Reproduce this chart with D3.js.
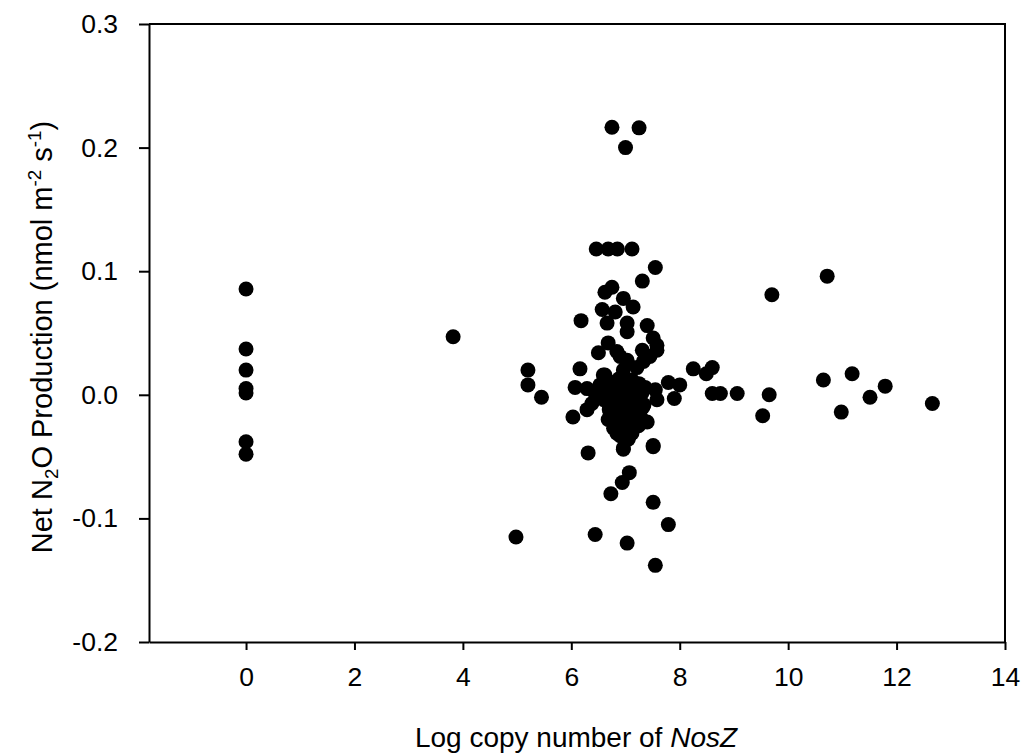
<!DOCTYPE html>
<html>
<head>
<meta charset="utf-8">
<script src="https://cdn.jsdelivr.net/npm/d3@7"></script>
<style>
  html, body { margin: 0; padding: 0; background: #fff; }
  svg text { font-family: Arial, "Liberation Sans", sans-serif; fill: #000; }
</style>
</head>
<body>
<svg id="chart" width="1026" height="755"></svg>
<script>
// Log copy number of NosZ (x) and Net N2O production (y)
const nosZ = [
  0, 0, 0, 0, 0, 0, 0,
  3.82, 4.98, 5.2, 5.2, 5.45,
  6.75, 7.25, 7.0,
  6.46, 6.68, 6.85, 7.12,
  7.55, 7.31, 6.62, 6.75, 6.96,
  7.14, 6.57, 6.81, 6.18, 6.66, 7.03, 7.03, 7.40, 7.51, 7.58, 7.58,
  6.68, 6.50, 6.84, 7.31, 7.45, 7.03, 6.90, 7.33,
  6.16, 6.59, 6.96, 7.21, 6.62,
  6.07, 6.29, 6.44, 6.03, 6.29, 6.38, 6.53,
  7.40, 7.55, 7.58, 6.84, 7.12, 6.72, 6.96, 7.05, 6.96, 7.51,
  6.31, 6.90, 7.05, 6.96, 7.51, 7.07, 6.94, 6.73, 7.51, 7.79, 6.44, 7.03, 7.55,
  // dense core
  6.62, 6.75, 6.88, 7.0, 7.12, 7.25, 7.36,
  6.66, 6.80, 6.92, 7.05, 7.18, 7.30,
  6.60, 6.74, 6.86, 6.98, 7.10, 7.22, 7.34,
  6.70, 6.82, 6.95, 7.08, 7.20, 7.32,
  6.68, 6.80, 6.93, 7.06, 7.18, 7.28,
  6.78, 6.90, 7.02, 7.14, 7.24,
  // right of core
  7.79, 8.0, 7.90, 8.25, 8.49, 8.60, 8.60, 8.75, 9.06,
  9.70, 9.65, 9.53, 10.72, 10.65, 11.18, 10.98, 11.51, 11.79, 12.66
];
const n2o = [
  0.0856, 0.037, 0.020, 0.005, 0.0015, -0.038, -0.048,
  0.047, -0.115, 0.020, 0.008, -0.002,
  0.2165, 0.216, 0.200,
  0.118, 0.118, 0.118, 0.118,
  0.103, 0.092, 0.083, 0.087, 0.078,
  0.071, 0.069, 0.067, 0.060, 0.058, 0.058, 0.051, 0.056, 0.046, 0.036, 0.040,
  0.042, 0.034, 0.035, 0.036, 0.031, 0.028, 0.031, 0.027,
  0.021, 0.016, 0.020, 0.022, 0.016,
  0.006, 0.005, 0.001, -0.018, -0.012, -0.007, 0.008,
  -0.022, 0.004, -0.004, -0.031, -0.031, -0.018, -0.034, -0.036, -0.043, -0.042,
  -0.047, -0.033, -0.035, -0.044, -0.041, -0.063, -0.071, -0.080, -0.087, -0.105, -0.113, -0.120, -0.138,
  0.012, 0.010, 0.013, 0.011, 0.012, 0.009, 0.006,
  0.004, 0.003, 0.005, 0.002, 0.004, 0.001,
  -0.004, -0.005, -0.003, -0.006, -0.004, -0.005, -0.008,
  -0.012, -0.013, -0.011, -0.014, -0.012, -0.010,
  -0.020, -0.021, -0.019, -0.022, -0.020, -0.018,
  -0.027, -0.028, -0.026, -0.027, -0.025,
  0.010, 0.008, -0.003, 0.021, 0.017, 0.022, 0.001, 0.001, 0.001,
  0.081, 0.000, -0.017, 0.096, 0.012, 0.017, -0.014, -0.002, 0.007, -0.007
];
const xTicks = [0, 2, 4, 6, 8, 10, 12, 14];
const yTicks = [-0.2, -0.1, 0.0, 0.1, 0.2, 0.3];
const xDomain = [-1.79, 14];
const yDomain = [-0.2, 0.3];

const svg = d3.select("#chart");
const mLeft = 149, mRight = 1005, mTop = 24, mBottom = 642;
const x = d3.scaleLinear().domain(xDomain).range([mLeft, mRight]);
const y = d3.scaleLinear().domain(yDomain).range([mBottom, mTop]);

const fsTick = 26.5;
const fsTitle = 28;
const fsYTitle = 29;

// frame (top and right)
svg.append("path")
  .attr("d", `M${mLeft},${mTop}H${mRight}V${mBottom}`)
  .attr("fill", "none").attr("stroke", "#000").attr("stroke-width", 2);

// y axis
const gy = svg.append("g").attr("transform", `translate(${mLeft},0)`)
  .call(d3.axisLeft(y).tickValues(yTicks).tickFormat(d3.format(".1f")).tickSize(10).tickSizeOuter(0).tickPadding(21));
gy.selectAll("text").attr("font-size", fsTick).attr("font-family", "Arial, 'Liberation Sans', sans-serif")
  .text(d => d3.format(".1f")(d).replace("−", "-"));

// x axis
const gx = svg.append("g").attr("transform", `translate(0,${mBottom})`)
  .call(d3.axisBottom(x).tickValues(xTicks).tickFormat(d3.format("d")).tickSize(8).tickSizeOuter(0).tickPadding(17));
gx.selectAll("text").attr("font-size", fsTick).attr("font-family", "Arial, 'Liberation Sans', sans-serif");

svg.selectAll(".domain, .tick line").attr("stroke", "#000").attr("stroke-width", 2);

// points
svg.append("g").selectAll("circle")
  .data(nosZ.map((d, i) => [d, n2o[i]]))
  .join("circle")
  .attr("cx", d => x(d[0]))
  .attr("cy", d => y(d[1]))
  .attr("r", 7.5)
  .attr("fill", "#000");

// x title
const xt = svg.append("text")
  .attr("x", 576).attr("y", 747)
  .attr("text-anchor", "middle").attr("font-size", fsTitle);
xt.append("tspan").text("Log copy number of ");
xt.append("tspan").attr("font-style", "italic").text("NosZ");

// y title
const yt = svg.append("text")
  .attr("transform", `translate(52,337) rotate(-90)`)
  .attr("text-anchor", "middle").attr("font-size", fsYTitle);
yt.append("tspan").text("Net N");
yt.append("tspan").attr("font-size", fsYTitle * 0.65).attr("dy", 6).text("2");
yt.append("tspan").attr("dy", -6).text("O Production (nmol m");
yt.append("tspan").attr("font-size", fsYTitle * 0.65).attr("dy", -11).text("-2");
yt.append("tspan").attr("dy", 11).text(" s");
yt.append("tspan").attr("font-size", fsYTitle * 0.65).attr("dy", -11).text("-1");
yt.append("tspan").attr("dy", 11).text(")");
</script>
</body>
</html>
